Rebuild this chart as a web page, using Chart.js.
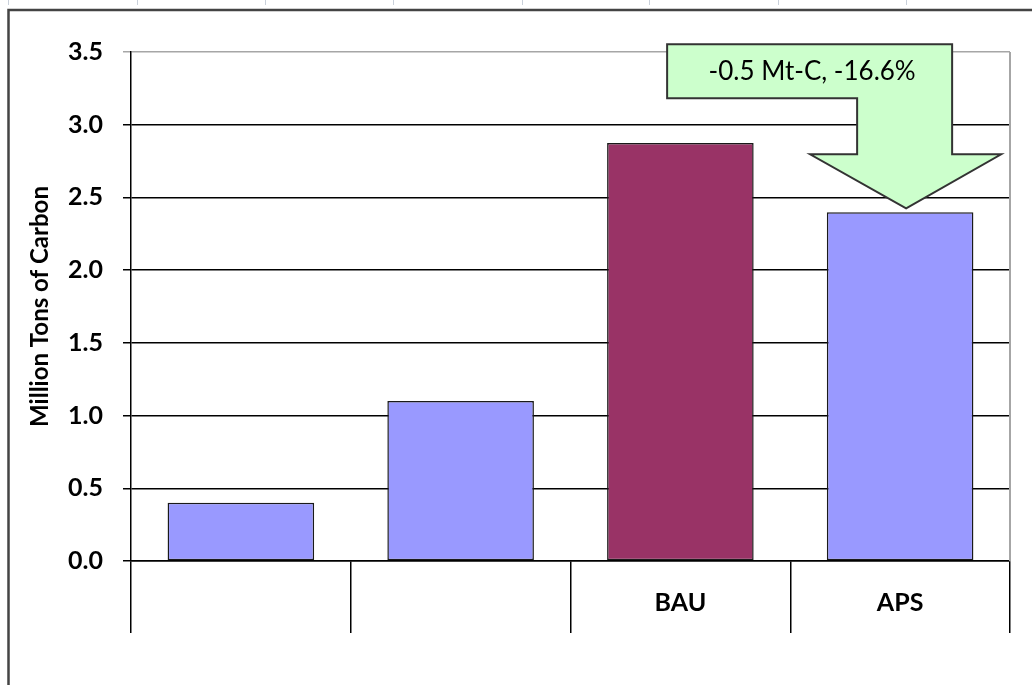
<!DOCTYPE html>
<html>
<head>
<meta charset="utf-8">
<script src="https://cdn.jsdelivr.net/npm/chart.js@4/dist/chart.umd.min.js"></script>
<style>
    body { margin: 0; background: #fff; }
    canvas { display: block; }
</style>
</head>
<body>
<canvas id="carbon-chart" width="1032" height="685"></canvas>
<script>
const categories = ["", "", "BAU", "APS"];
const carbonValues = [0.4, 1.1, 2.875, 2.398];
const barColors = ["#9999ff", "#9999ff", "#993366", "#9999ff"];
const yTicks = [0, 0.5, 1.0, 1.5, 2.0, 2.5, 3.0, 3.5];
const yTitle = "Million Tons of Carbon";

const bauIndex = categories.indexOf("BAU");
const apsIndex = categories.indexOf("APS");

// outer frame of the sheet + little column markers on top
const framePlugin = {
    id: "frame",
    beforeDraw(chart) {
        const ctx = chart.ctx;
        ctx.save();
        ctx.strokeStyle = "#c9d0da";
        ctx.lineWidth = 1;
        [8, 137, 265, 393, 522, 649, 778, 906].forEach(x => {
            ctx.beginPath();
            ctx.moveTo(x + 0.5, 0);
            ctx.lineTo(x + 0.5, 5);
            ctx.stroke();
        });
        ctx.strokeStyle = "#444";
        ctx.lineWidth = 2.5;
        ctx.beginPath();
        ctx.moveTo(8.5, chart.height);
        ctx.lineTo(8.5, 10);
        ctx.lineTo(chart.width, 10);
        ctx.stroke();
        ctx.restore();
    },
    afterDraw(chart) {
        // grey plot-area edge on the right
        const area = chart.chartArea;
        const ctx = chart.ctx;
        ctx.save();
        ctx.strokeStyle = "#a6a6a6";
        ctx.lineWidth = 2;
        ctx.beginPath();
        ctx.moveTo(area.right, area.top);
        ctx.lineTo(area.right, area.bottom);
        ctx.stroke();
        ctx.restore();
    }
};

// bent arrow callout pointing at the APS bar
const calloutPlugin = {
    id: "callout",
    afterDraw(chart) {
        const x = chart.scales.x;
        const y = chart.scales.y;
        const tipX = x.getPixelForValue(apsIndex) + 6;
        const tipY = y.getPixelForValue(carbonValues[apsIndex]) - 4;
        const diff = carbonValues[apsIndex] - carbonValues[bauIndex];
        const pct = diff / carbonValues[bauIndex] * 100;
        const text = diff.toFixed(1) + " Mt-C, " + pct.toFixed(1) + "%";

        const ctx = chart.ctx;
        ctx.save();
        ctx.beginPath();
        ctx.moveTo(tipX - 239, tipY - 164);
        ctx.lineTo(tipX + 46, tipY - 164);
        ctx.lineTo(tipX + 46, tipY - 54);
        ctx.lineTo(tipX + 95, tipY - 54);
        ctx.lineTo(tipX, tipY);
        ctx.lineTo(tipX - 96, tipY - 54);
        ctx.lineTo(tipX - 49, tipY - 54);
        ctx.lineTo(tipX - 49, tipY - 110);
        ctx.lineTo(tipX - 239, tipY - 110);
        ctx.closePath();
        ctx.fillStyle = "#ccffcc";
        ctx.fill();
        ctx.strokeStyle = "#333";
        ctx.lineWidth = 2;
        ctx.lineJoin = "miter";
        ctx.stroke();

        ctx.fillStyle = "#000";
        ctx.font = "26px Lato";
        ctx.textAlign = "center";
        ctx.textBaseline = "middle";
        ctx.fillText(text, tipX - 94, tipY - 137);
        ctx.restore();
    }
};

let carbonChart = new Chart(document.getElementById("carbon-chart"), {
    type: "bar",
    data: {
        labels: categories,
        datasets: [{
            data: carbonValues,
            backgroundColor: barColors,
            borderColor: "#1a1a1a",
            borderWidth: 1.5,
            borderSkipped: false,
            barPercentage: 0.667,
            categoryPercentage: 1
        }]
    },
    options: {
        responsive: false,
        animation: false,
        layout: {
            padding: { left: 8, top: 52, right: 22, bottom: 0 }
        },
        plugins: {
            legend: { display: false },
            tooltip: { enabled: false }
        },
        scales: {
            x: {
                grid: {
                    offset: true,
                    drawOnChartArea: false,
                    drawTicks: true,
                    tickLength: 72,
                    color: "#000",
                    lineWidth: 1.5
                },
                border: { color: "#000", width: 1.5 },
                ticks: {
                    padding: -45,
                    color: "#000",
                    font: { family: "Lato", size: 25, weight: "bold" }
                },
                afterFit(scale) {
                    scale.height = 124;
                }
            },
            y: {
                min: 0,
                max: 3.5,
                afterBuildTicks(scale) {
                    scale.ticks = yTicks.map(v => ({ value: v }));
                },
                grid: {
                    color: ctx => ctx.tick && ctx.tick.value === 3.5 ? "#a6a6a6" : "#000",
                    lineWidth: 1.5,
                    tickLength: 8
                },
                border: { color: "#000", width: 1.5 },
                ticks: {
                    padding: 20,
                    color: "#000",
                    font: { family: "Lato", size: 25, weight: "bold" },
                    callback: value => value.toFixed(1)
                },
                title: {
                    display: true,
                    text: yTitle,
                    color: "#000",
                    padding: { top: 18, bottom: 0 },
                    font: { family: "Lato", size: 24, weight: "bold" }
                },
                afterFit(scale) {
                    scale.width = 123;
                }
            }
        }
    },
    plugins: [framePlugin, calloutPlugin]
});
</script>
</body>
</html>
